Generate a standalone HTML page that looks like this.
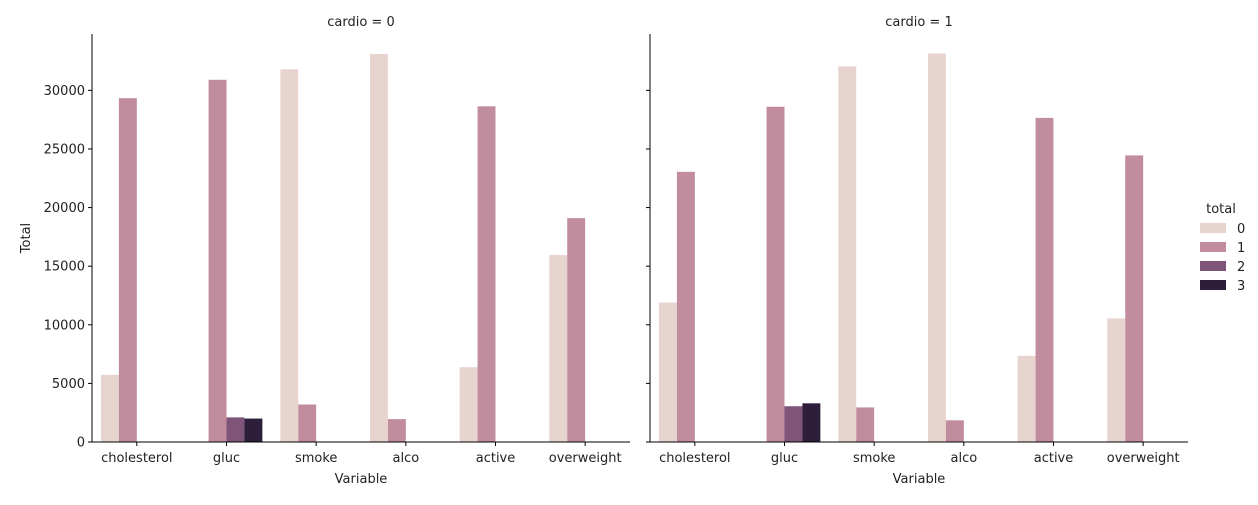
<!DOCTYPE html>
<html><head><meta charset="utf-8"><style>
body{margin:0;background:#fff}
svg text{font-family:"DejaVu Sans","Liberation Sans",sans-serif;font-size:13px;fill:#222}
</style></head><body>
<svg id="chart" width="1258" height="500" xmlns="http://www.w3.org/2000/svg"></svg>
<script>
const categories = ["cholesterol","gluc","smoke","alco","active","overweight"];
const hueLevels = ["0","1","2","3"];
const panelTitles = ["cardio = 0","cardio = 1"];
const cardio0_v0 = [5730,0,31800,33100,6380,15950];
const cardio0_v1 = [29330,30900,3200,1950,28640,19100];
const cardio0_v2 = [0,2100,0,0,0,0];
const cardio0_v3 = [0,2000,0,0,0,0];
const cardio1_v0 = [11900,0,32050,33150,7350,10550];
const cardio1_v1 = [23050,28600,2950,1850,27650,24450];
const cardio1_v2 = [0,3050,0,0,0,0];
const cardio1_v3 = [0,3300,0,0,0,0];
const yTicks = [0,5000,10000,15000,20000,25000,30000];
const colors = ["#e8d4cf","#c08c9e","#7e5479","#2d1e3c"];
const panels = [[cardio0_v0,cardio0_v1,cardio0_v2,cardio0_v3],[cardio1_v0,cardio1_v1,cardio1_v2,cardio1_v3]];
const panelX = [92,650], panelW = 538, y0 = 442, yTop = 34;
const allVals = panels.flat(2);
const yMax = Math.max(...allVals)*1.05;
const ys = v => y0 - v/yMax*(y0-yTop);
const svg = document.getElementById('chart');
const NS = "http://www.w3.org/2000/svg";
function mk(tag, attrs, text){const e=document.createElementNS(NS,tag);for(const k in attrs)e.setAttribute(k,attrs[k]);if(text!==undefined)e.textContent=text;svg.appendChild(e);return e;}
panels.forEach((series,p)=>{
  const px = panelX[p];
  const bw = panelW/categories.length;
  const xs = (i,h)=> px + bw*i + bw*0.1 + h*bw*0.2;
  series.forEach((vals,h)=>{
    vals.forEach((v,i)=>{
      if(v<=0) return;
      const r = mk('rect',{x:xs(i,h),y:ys(v),width:bw*0.2,height:y0-ys(v),fill:colors[h]});
      
      
    });
  });
  const ax = mk('line',{x1:px,y1:yTop,x2:px,y2:y0,stroke:'#000','stroke-width':1});
   
  const bx = mk('line',{x1:px,y1:y0,x2:px+panelW,y2:y0,stroke:'#000','stroke-width':1});
   
  yTicks.forEach(t=>{
    mk('line',{x1:px-4,y1:ys(t),x2:px,y2:ys(t),stroke:'#000'});
    if(p===0){
      const tl = mk('text',{x:px-7,y:ys(t)+4.5,'text-anchor':'end'},String(t));
       
    }
  });
  categories.forEach((c,i)=>{
    const cx = px+bw*(i+0.5);
    mk('line',{x1:cx,y1:y0,x2:cx,y2:y0+4,stroke:'#000'});
    const tl = mk('text',{x:cx,y:y0+20,'text-anchor':'middle'},c);
     
  });
  const xl = mk('text',{x:px+panelW/2,y:483,'text-anchor':'middle'},'Variable');
   
  const tt = mk('text',{x:px+panelW/2,y:26,'text-anchor':'middle'},panelTitles[p]);
   
});
const yl = mk('text',{x:30,y:238,'text-anchor':'middle',transform:'rotate(-90 30 238)'},'Total');
 
const lt = mk('text',{x:1221,y:213,'text-anchor':'middle'},'total');
 
hueLevels.forEach((h,i)=>{
  const y = 228+i*19;
  const r = mk('rect',{x:1200,y:y-5,width:26,height:10,fill:colors[i]});
   
  const t = mk('text',{x:1237,y:y+5},h);
   
});
</script>
</body></html>
